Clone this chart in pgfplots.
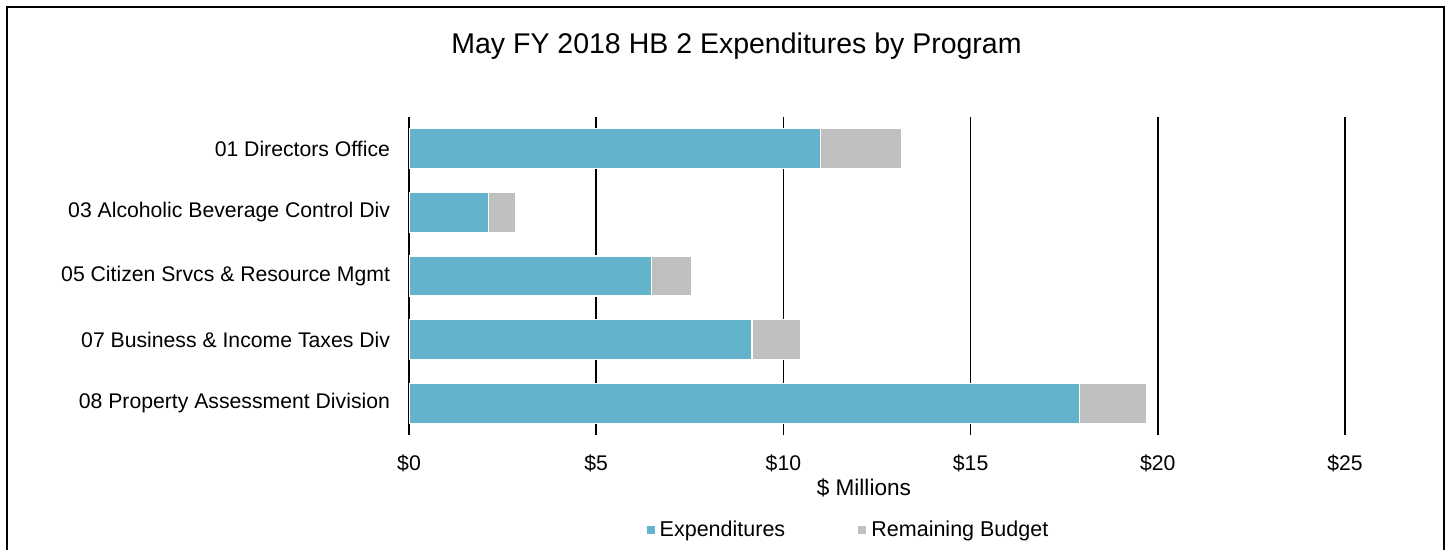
\documentclass[border=0pt]{standalone}
\usepackage{pgfplots}
\pgfplotsset{compat=1.18}
\usepackage{fontspec}
\setmainfont{Liberation Sans}
\definecolor{expc}{HTML}{62B3CB}
\definecolor{remc}{HTML}{BFBFBF}
\begin{document}
\begin{tikzpicture}[x=1pt,y=1pt]
\useasboundingbox (0,0) rectangle (724.5,275);
\draw[line width=1pt] (3.5,271.5) rectangle (722,-10);
\node[font=\fontsize{14.25}{17}\selectfont] at (368.25,252) {May FY 2018 HB 2 Expenditures by Program};
\begin{axis}[
  at={(204.5pt,57.5pt)}, anchor=south west,
  scale only axis, width=468pt, height=159pt,
  xbar stacked, bar width=20pt,
  xmin=0, xmax=25, ymin=-0.5, ymax=4.5,
  xtick={0,5,10,15,20,25},
  xticklabels={\$0,\$5,\$10,\$15,\$20,\$25},
  ytick={0,1,2,3,4},
  yticklabels={08 Property Assessment Division,07 Business \& Income Taxes Div,05 Citizen Srvcs \& Resource Mgmt,03 Alcoholic Beverage Control Div,01 Directors Office},
  tick label style={font=\fontsize{10.6}{12}\selectfont},
  yticklabel style={xshift=-6pt},
  xticklabel style={yshift=-6.5pt},
  major tick length=0pt,
  axis line style={draw=none},
  xmajorgrids, grid style={black, line width=0.8pt},
  xlabel={\$ Millions},
  xlabel style={font=\fontsize{11.3}{13}\selectfont, at={(0.486,0)}, anchor=north, yshift=-18.5pt},
  legend columns=2,
  legend style={draw=none, font=\fontsize{10.75}{12}\selectfont, at={(0.47,-0.298)}, anchor=center, /tikz/every even column/.append style={column sep=34pt}},
  legend image code/.code={\fill[#1] (0pt,-2.25pt) rectangle (4.5pt,2.25pt);},
]
\addplot[fill=expc, draw=white, line width=0.6pt] coordinates {(17.90,0) (9.16,1) (6.48,2) (2.13,3) (11.00,4)};
\addplot[fill=remc, draw=white, line width=0.6pt] coordinates {(1.81,0) (1.29,1) (1.07,2) (0.71,3) (2.16,4)};
\legend{Expenditures, Remaining Budget}
\end{axis}
\end{tikzpicture}
\end{document}
